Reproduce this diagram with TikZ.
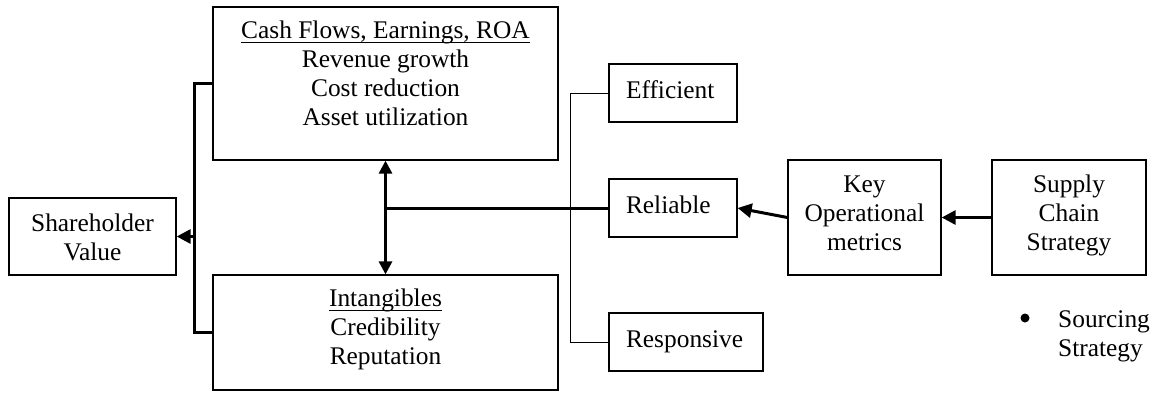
\documentclass[tikz,border=0pt]{standalone}
\usepackage{fontspec}
\setmainfont{Liberation Serif}
\usetikzlibrary{arrows.meta,positioning}
\newcommand{\diagfont}{\fontsize{25.4}{29}\selectfont}
\newcommand{\undl}[1]{\setbox0\hbox{#1}\rlap{\rule[-4.5pt]{\wd0}{1.2pt}}\box0}

\begin{document}
\begin{tikzpicture}[x=1pt,y=-1pt,
	box/.style={draw,line width=1.3pt,inner sep=0pt,align=center,font=\diagfont,
		execute at begin node=\strut,execute at end node=\strut},
	txt/.style={box,draw=none},
	lbox/.style={box,align=left,inner xsep=17pt,minimum height=58pt},
	heavy/.style={line width=3pt},
	arr/.style={-{Triangle[length=14pt,width=14pt]}},
	dbl/.style={{Triangle[length=13pt,width=13pt]}-{Triangle[length=13pt,width=13pt]}}]
\useasboundingbox (0,0) rectangle (1156,392);
\node[box,minimum width=167pt,minimum height=77pt] (sv) at (92.5,236.5) {};
\node[txt] (svtxt) at ([yshift=-5pt]sv.center) {Shareholder\\Value};
\node[box,minimum width=345pt,minimum height=153pt] (cash) at (385.5,83.5) {};
\node[txt,below=14pt of cash.north] (cashtxt)
	{\undl{Cash Flows, Earnings, ROA}\\Revenue growth\\Cost reduction\\Asset utilization};
\node[box,minimum width=345pt,minimum height=115pt] (intang) at (385.5,332.5) {};
\node[txt,below=14pt of intang.north] (intangtxt) {\undl{Intangibles}\\Credibility\\Reputation};
\node[lbox,text width=94pt] (eff) at (673,93) {Efficient};
\node[lbox,text width=94pt] (rel) at (673,208) {Reliable};
\node[lbox,text width=120pt] (resp) at (686,342) {Responsive};
\node[box,minimum width=153pt,minimum height=115pt] (key) at (864.5,217.5) {Key\\Operational\\metrics};
\node[box,minimum width=154pt,minimum height=115pt] (scs) at (1069,217.5) {Supply\\Chain\\Strategy};
\node[circle,fill,inner sep=0pt,minimum size=9pt] (dot) at (1025,318) {};
\node[font=\diagfont,align=left,inner sep=0pt,anchor=north west] (src) at (1058,310) {Sourcing\\Strategy};

\coordinate (fork) at (194,236.5);
\draw[heavy] (cash.west) -| (fork) |- (intang.west);
\draw[heavy,arr] (fork) -- (sv.east);
\draw[heavy,dbl] (cash.south) -- (intang.north);
\draw[heavy] (cash.south |- rel.west) -- (rel.west);
\draw[line width=1pt] (eff.west) -- ++(-38,0) |- (resp.west);
\draw[heavy,arr] (key.west) -- (rel.east);
\draw[heavy,arr] (scs.west) -- (key.east);
\end{tikzpicture}
\end{document}
